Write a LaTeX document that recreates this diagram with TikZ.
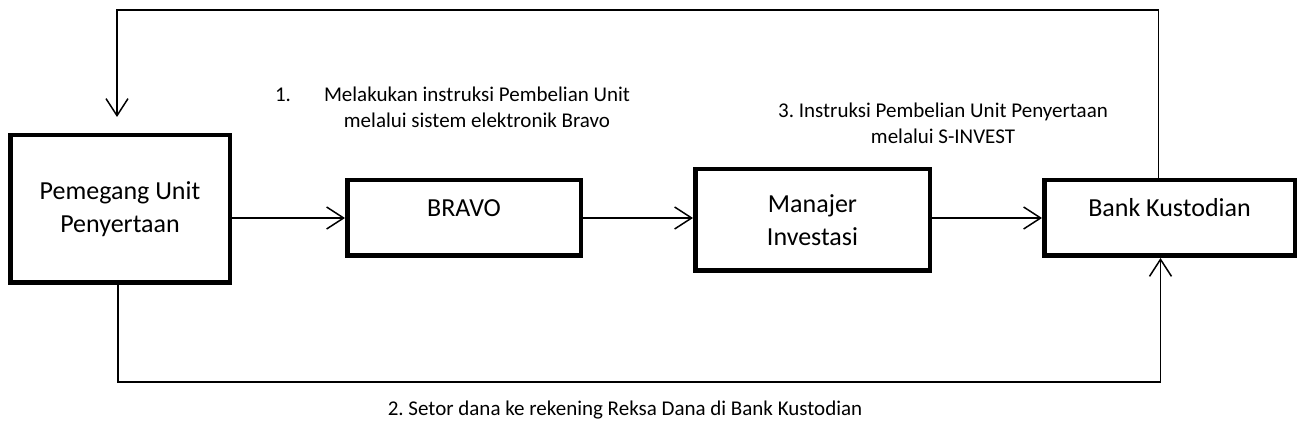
\documentclass[tikz,border=0pt]{standalone}
\usepackage{fontspec}
\setmainfont{Carlito}
\usetikzlibrary{arrows.meta}
\frenchspacing
\begin{document}
\begin{tikzpicture}[x=1pt,y=-1pt,
	box/.style={draw,line width=4.5pt,align=center,inner sep=0pt,font=\fontsize{26}{33}\selectfont},
	onebox/.style={box,text height=18pt,text depth=20pt},
	lab/.style={align=center,inner sep=0pt,font=\fontsize{21}{26}\selectfont},
	arr/.style={line width=1.5pt,-{Straight Barb[length=17pt,width=22pt,line width=1.5pt]}}]
	\useasboundingbox (0,0) rectangle (1301,435);
	\node[box,minimum width=219.5pt,minimum height=147.5pt] (holder) at (120,209) {Pemegang Unit\\Penyertaan};
	\node[onebox,minimum width=233.5pt,minimum height=75.5pt] (bravo) at (464,218) {BRAVO};
	\node[box,minimum width=234.5pt,minimum height=101.5pt] (mi) at (812.5,220) {Manajer\\Investasi};
	\node[onebox,minimum width=250.5pt,minimum height=75.5pt] (bank) at (1169.5,218) {Bank Kustodian};
	\node[lab] (step1) at (477,107) {\makebox[0pt][r]{1.\hspace{33pt}}Melakukan instruksi Pembelian Unit\\melalui sistem elektronik Bravo};
	\node[lab] (step3) at (943,123) {3. Instruksi Pembelian Unit Penyertaan\\melalui S-INVEST};
	\node[lab] (step2) at (625,410) {2. Setor dana ke rekening Reksa Dana di Bank Kustodian};
	\coordinate (bl) at (118,382);
	\draw[arr] (holder.east |- bravo.west) -- (bravo.west);
	\draw[arr] (bravo.east) -- (bravo.east -| mi.west);
	\draw[arr] (mi.east |- bank.west) -- (bank.west);
	\draw[arr] ([xshift=-11pt]bank.north) |- ([xshift=-3pt,yshift=123pt]holder.north) -- ([xshift=-3pt,yshift=16pt]holder.north);
	\draw[arr] (holder.south -| bl) -- (bl) -| ([xshift=-9pt]bank.south);
\end{tikzpicture}
\end{document}
